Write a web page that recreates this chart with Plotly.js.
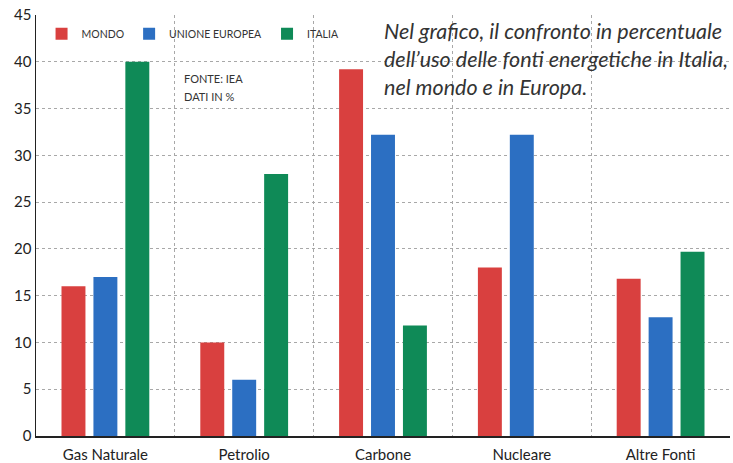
<!DOCTYPE html>
<html>
<head>
<meta charset="utf-8">
<script src="https://cdn.plot.ly/plotly-3.0.1.min.js"></script>
<style>html,body{margin:0;padding:0;background:#fff;}#chart{width:733px;height:463px;}</style>
</head>
<body>
<div id="chart"></div>
<script>
var categories = ["Gas Naturale", "Petrolio", "Carbone", "Nucleare", "Altre Fonti"];
var mondo = [16, 10, 39.2, 18, 16.8];
var unioneEuropea = [17, 6, 32.2, 32.2, 12.7];
var italia = [40, 28, 11.8, 0, 19.7];
var seriesNames = ["MONDO", "UNIONE EUROPEA", "ITALIA"];
var yTicks = [0, 5, 10, 15, 20, 25, 30, 35, 40, 45];

var colors = ["#d9403f", "#2c6fc2", "#0f8a57"];
var font = "Lato, 'Open Sans', sans-serif";

var data = [mondo, unioneEuropea, italia].map(function (vals, i) {
  return {
    type: "bar",
    x: categories,
    y: vals,
    name: seriesNames[i],
    marker: { color: colors[i] }
  };
});

var layout = {
  width: 733,
  height: 463,
  margin: { l: 36, r: 3, t: 15, b: 27 },
  paper_bgcolor: "#ffffff",
  plot_bgcolor: "#ffffff",
  barmode: "group",
  bargap: 0.31,
  bargroupgap: 0.25,
  showlegend: true,
  legend: {
    orientation: "h",
    x: 0.008, y: 0.99, xanchor: "left", yanchor: "top",
    font: { family: font, size: 10.5, color: "#333" },
    bgcolor: "rgba(0,0,0,0)",
    itemwidth: 30,
    traceorder: "normal"
  },
  xaxis: {
    type: "category",
    tickson: "boundaries",
    showgrid: true,
    griddash: "dot",
    gridcolor: "#a8a8a8",
    gridwidth: 1,
    ticks: "",
    showline: true,
    linecolor: "#222",
    linewidth: 1.5,
    ticklabelstandoff: 4,
    tickfont: { family: font, size: 15, color: "#222" },
    fixedrange: true
  },
  yaxis: {
    range: [0, 45],
    tickvals: yTicks,
    ticktext: yTicks.map(String),
    showgrid: true,
    griddash: "dot",
    gridcolor: "#a8a8a8",
    gridwidth: 1,
    zeroline: false,
    showline: true,
    linecolor: "#222",
    linewidth: 1.5,
    ticks: "",
    ticklen: 0,
    tickfont: { family: font, size: 15, color: "#222" },
    fixedrange: true
  },
  annotations: [
    {
      xref: "paper", yref: "paper",
      x: 0.211, y: 0.87, xanchor: "left", yanchor: "top",
      text: "FONTE: IEA",
      showarrow: false, align: "left",
      font: { family: font, size: 11, color: "#333" }
    },
    {
      xref: "paper", yref: "paper",
      x: 0.211, y: 0.827, xanchor: "left", yanchor: "top",
      text: "DATI IN %",
      showarrow: false, align: "left",
      font: { family: font, size: 11, color: "#333" }
    },
    {
      xref: "paper", yref: "paper",
      x: 1.0, y: 0.998, xanchor: "right", yanchor: "top",
      text: "<i>Nel grafico, il confronto in percentuale<br>dell\u2019uso delle fonti energetiche in Italia,<br>nel mondo e in Europa.</i>",
      showarrow: false, align: "left",
      font: { family: font, size: 21.5, color: "#333" }
    }
  ]
};

Plotly.newPlot("chart", data, layout, { staticPlot: true, displayModeBar: false });
</script>
</body>
</html>
